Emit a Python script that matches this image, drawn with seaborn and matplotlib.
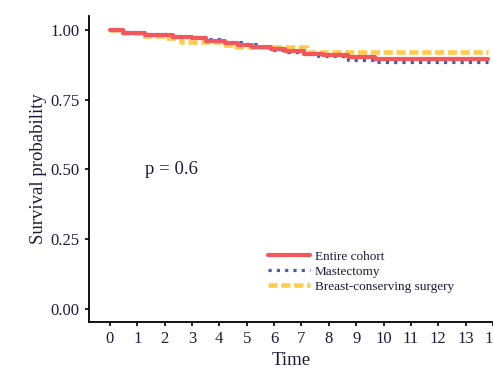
import matplotlib
matplotlib.use("Agg")
import matplotlib.pyplot as plt
import seaborn as sns
import pandas as pd

# Data
t_all = [0, 0.5, 1.3, 2.3, 3.0, 3.5, 4.2, 4.7, 5.2, 5.9, 6.4, 7.1, 7.8, 8.7, 9.7, 13.8]
s_all = [1.0, 0.990, 0.982, 0.975, 0.970, 0.962, 0.954, 0.946, 0.940, 0.930, 0.924, 0.915, 0.910, 0.904, 0.895, 0.895]

t_mast = [0, 0.5, 1.3, 2.1, 2.8, 3.5, 4.2, 4.9, 5.5, 5.9, 6.5, 7.1, 7.6, 8.7, 9.7, 13.8]
s_mast = [1.0, 0.993, 0.985, 0.980, 0.976, 0.966, 0.958, 0.948, 0.940, 0.928, 0.922, 0.912, 0.905, 0.893, 0.886, 0.886]

t_bcs = [0, 0.5, 1.1, 2.0, 2.6, 4.1, 4.6, 7.2, 13.8]
s_bcs = [1.0, 0.990, 0.978, 0.972, 0.957, 0.945, 0.938, 0.922, 0.922]

labels = ["Entire cohort", "Mastectomy", "Breast-conserving surgery"]
x_ticks = list(range(0, 15))
y_ticks = [0.00, 0.25, 0.50, 0.75, 1.00]

sns.set_theme(style="white")
plt.rcParams["font.family"] = ["Liberation Serif", "DejaVu Serif"]
txt = "#1c1c3a"

fig = plt.figure(figsize=(4.93, 3.69), dpi=100)
ax = fig.add_axes([89/493, 1 - 321.7/369, 1 - 89/493, (321.7 - 16)/369])

df_all = pd.DataFrame({"t": t_all, "s": s_all})
df_mast = pd.DataFrame({"t": t_mast, "s": s_mast})
df_bcs = pd.DataFrame({"t": t_bcs, "s": s_bcs})

sns.lineplot(data=df_bcs, x="t", y="s", ax=ax, drawstyle="steps-post",
             color="#FFCC4D", lw=3.3, linestyle=(0, (2.0, 0.8)), label=labels[2],
             dash_capstyle="butt", sort=False)
sns.lineplot(data=df_mast, x="t", y="s", ax=ax, drawstyle="steps-post",
             color="#3F5DBF", lw=2.3, linestyle=(0, (1.0, 1.6)), label=labels[1],
             dash_capstyle="butt", sort=False)
sns.lineplot(data=df_all, x="t", y="s", ax=ax, drawstyle="steps-post",
             color="#F2575C", lw=3.0, linestyle="-", label=labels[0], sort=False)

ax.set_xlim(-0.76, 13.93)
ax.set_ylim(-0.047, 1.05)
ax.set_xticks(x_ticks)
ax.set_xticklabels([str(v) for v in x_ticks])
ax.set_yticks(y_ticks)
ax.set_yticklabels([f"{v:.2f}" for v in y_ticks])

for side in ["top", "right"]:
    ax.spines[side].set_visible(False)
for side in ["left", "bottom"]:
    ax.spines[side].set_color("black")
    ax.spines[side].set_linewidth(1.3)

ax.tick_params(axis="both", which="both", direction="out", length=3, width=1.2,
               colors="black", labelcolor=txt, labelsize=12, pad=4,
               left=True, bottom=True)
ax.set_xlabel("Time", fontsize=13.5, color=txt, labelpad=3)
ax.set_ylabel("Survival probability", fontsize=13.5, color=txt, labelpad=2)

ax.text(1.27, 0.50, "p = 0.6", fontsize=13.5, color=txt, va="center", ha="left")

handles, labs = ax.get_legend_handles_labels()
order = [labs.index(l) for l in labels]
leg = ax.legend([handles[i] for i in order], [labs[i] for i in order],
                loc="upper left", bbox_to_anchor=(0.43, 0.25), frameon=False,
                fontsize=9.5, handlelength=3.2, handletextpad=0.35, labelspacing=0.2,
                borderaxespad=0)
for t in leg.get_texts():
    t.set_color(txt)

fig.savefig("out.png", dpi=100)
